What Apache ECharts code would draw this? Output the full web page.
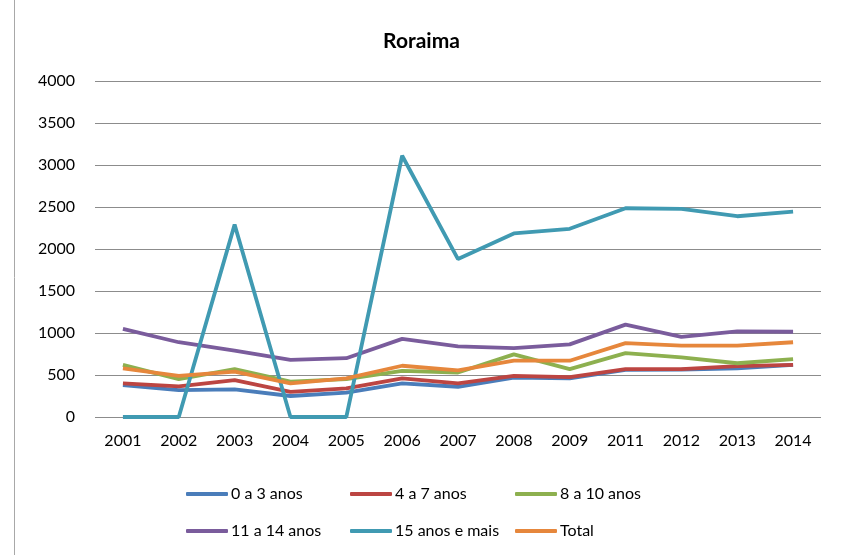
<!DOCTYPE html>
<html>
<head>
<meta charset="utf-8">
<script src="https://cdn.jsdelivr.net/npm/echarts@6/dist/echarts.min.js"></script>
<style>
  html, body { margin: 0; padding: 0; background: #fff; }
  #chart { width: 843px; height: 555px; }
</style>
</head>
<body>
<div id="chart"></div>
<script>
const anos = ['2001', '2002', '2003', '2004', '2005', '2006', '2007', '2008', '2009', '2011', '2012', '2013', '2014'];
const nomes = ['0 a 3 anos', '4 a 7 anos', '8 a 10 anos', '11 a 14 anos', '15 anos e mais', 'Total'];

const a0a3 = [380, 320, 330, 250, 290, 400, 360, 470, 460, 560, 565, 580, 620];
const a4a7 = [400, 365, 440, 300, 340, 460, 400, 490, 475, 570, 570, 605, 620];
const a8a10 = [620, 450, 570, 420, 450, 550, 530, 745, 570, 760, 710, 640, 690];
const a11a14 = [1050, 890, 790, 680, 700, 930, 840, 820, 865, 1100, 955, 1020, 1015];
const a15mais = [0, 0, 2290, 0, 0, 3110, 1880, 2185, 2240, 2485, 2478, 2390, 2445];
const total = [580, 490, 540, 400, 460, 610, 555, 670, 670, 880, 850, 850, 890];

const cores = ['#4A7DBA', '#BC4542', '#8DB04F', '#7A5C9C', '#409AB2', '#E6873C'];
const valores = [a0a3, a4a7, a8a10, a11a14, a15mais, total];

const fonte = 'Lato, "Open Sans", sans-serif';

let chart = echarts.init(document.getElementById('chart'));

// legenda em 2 linhas x 3 colunas
const colX = [181, 345, 510];
const rowY = [481, 518];
const legendas = nomes.map((n, i) => ({
  data: [n],
  left: colX[i % 3],
  top: rowY[Math.floor(i / 3)],
  icon: 'roundRect',
  itemWidth: 42,
  itemHeight: 4,
  itemGap: 0,
  textStyle: { fontFamily: fonte, fontSize: 16, color: '#000', padding: [0, 0, 0, -2] }
}));

const option = {
  color: cores,
  animation: false,
  title: {
    text: 'Roraima',
    left: 'center',
    top: 26,
    textStyle: { fontFamily: fonte, fontSize: 21, fontWeight: 'bold', color: '#000' }
  },
  legend: legendas,
  grid: { left: 95, right: 22, top: 81, bottom: 138 },
  xAxis: {
    type: 'category',
    data: anos,
    boundaryGap: true,
    axisLine: { show: false },
    axisTick: { show: false },
    axisLabel: { fontFamily: fonte, fontSize: 16, color: '#000', margin: 16 }
  },
  yAxis: {
    type: 'value',
    min: 0,
    max: 4000,
    interval: 500,
    axisLine: { show: false },
    axisTick: { show: false },
    axisLabel: { fontFamily: fonte, fontSize: 16, color: '#000', margin: 20, formatter: v => String(v) },
    splitLine: { lineStyle: { color: '#8c8c8c', width: 1 } }
  },
  graphic: [{
    type: 'line',
    shape: { x1: 14.5, y1: 0, x2: 14.5, y2: 555 },
    style: { stroke: '#a8a8a8', lineWidth: 1 }
  }],
  series: nomes.map((n, i) => ({
    name: n,
    type: 'line',
    data: valores[i],
    showSymbol: false,
    lineStyle: { width: 3.8, color: cores[i] },
    itemStyle: { color: cores[i] }
  }))
};

chart.setOption(option);
window.addEventListener('resize', () => {
  chart.resize();
});
</script>
</body>
</html>
